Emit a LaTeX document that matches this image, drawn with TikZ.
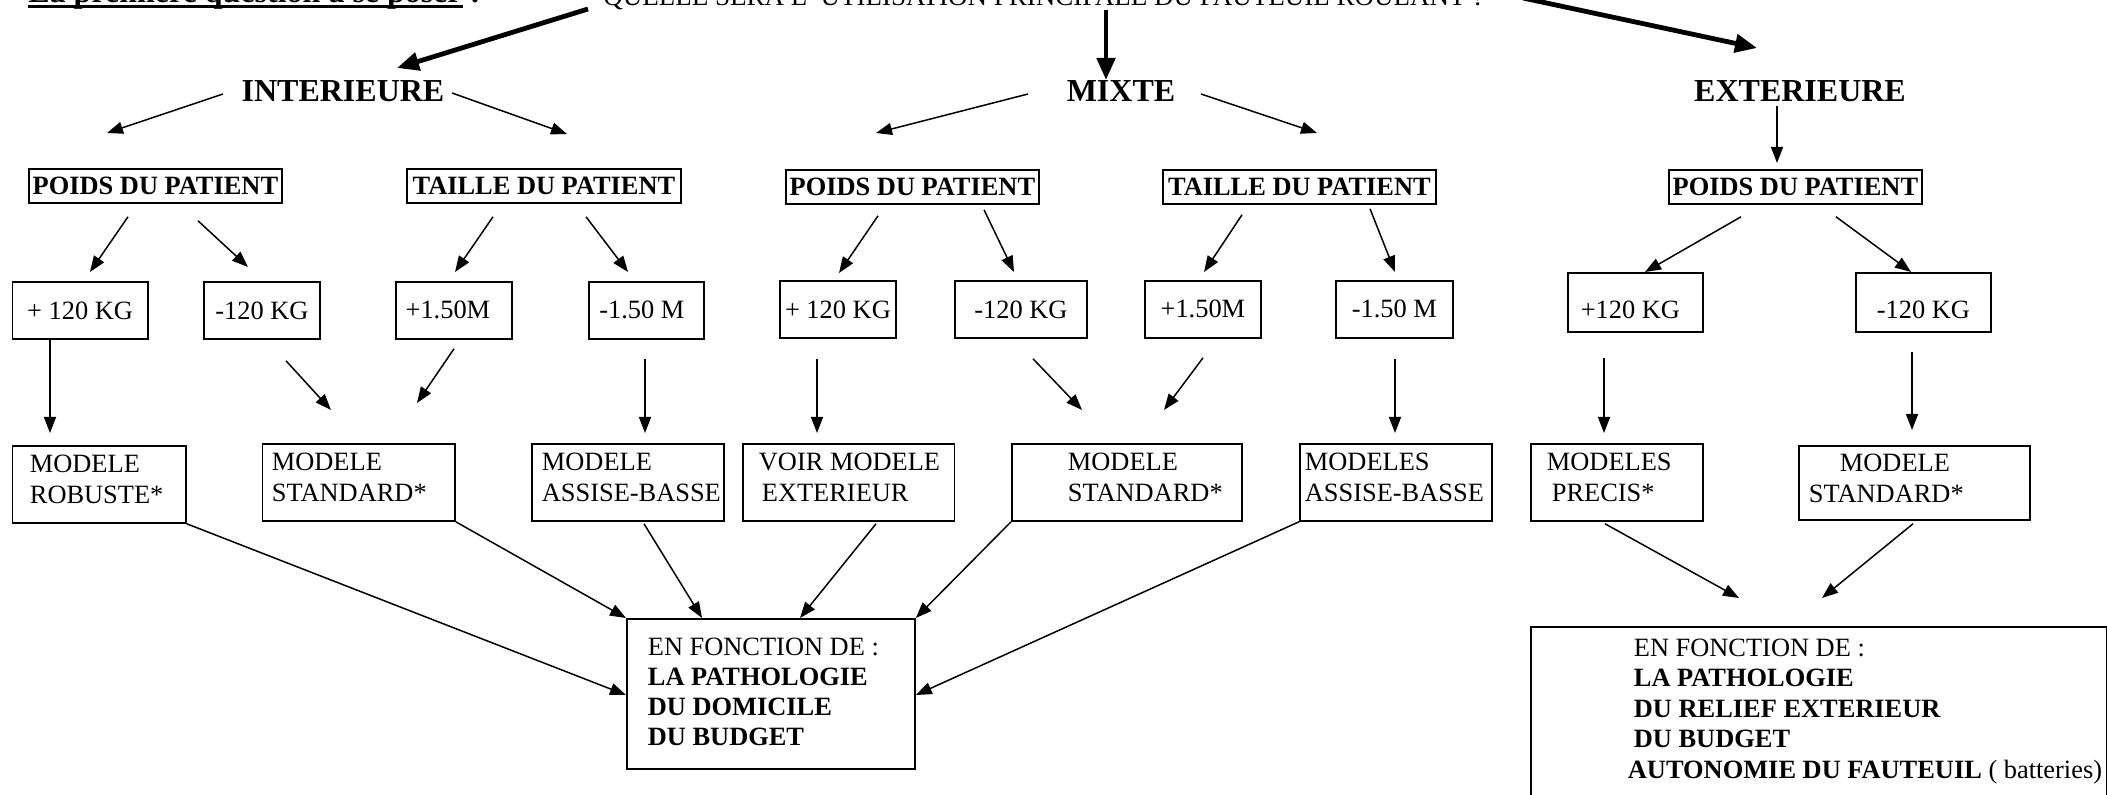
\documentclass[tikz,border=0pt]{standalone}
\usepackage{fontspec}
\setmainfont{Liberation Serif}
\usetikzlibrary{arrows.meta,calc}
\newcommand\ntxt{\fontsize{13.2}{15.5}\selectfont}
\newcommand\btxt{\bfseries\fontsize{13.2}{15.5}\selectfont}
\newcommand\htxt{\bfseries\fontsize{16}{19}\selectfont}
\newcommand\boxline[3]{\makebox[#1][l]{\hspace*{#2}#3}}
\newcommand\lowstrut[1]{\rule[-#1]{0pt}{#1}}
\begin{document}
\begin{tikzpicture}[x=0.5pt,y=-0.5pt,
  mybox/.style={draw, line width=0.9pt, inner sep=0pt},
  lvltwo/.style={mybox, font=\btxt, minimum height=17pt, anchor=north west},
  lvlthree/.style={mybox, font=\ntxt, minimum height=28.5pt, anchor=north west},
  lvlfour/.style={mybox, font=\ntxt, align=left, minimum height=38.5pt, anchor=north west},
  lvlfive/.style={mybox, font=\ntxt, align=left, anchor=north west},
  head/.style={font=\htxt, inner sep=0pt},
  arr/.style={-{Triangle[length=8pt,width=6pt]}, line width=0.75pt},
  bigarr/.style={-{Triangle[length=11pt,width=9pt]}, line width=2.4pt},
]
\useasboundingbox (0,0) rectangle (2107,795);
\clip (0,0) rectangle (2107,795);

% top texts
\node[anchor=base west, inner sep=0pt, font=\htxt] (title) at (28,3) {La première question à se poser :};
\draw[line width=1.25pt] ($(title.base west)+(0,3.5)$) -- ++(435,0);
\node[anchor=base west, inner sep=0pt, font=\fontsize{13.5}{16}\selectfont] (Q) at (603,6) {QUELLE SERA L' UTILISATION PRINCIPALE DU FAUTEUIL ROULANT ?};

% level 1
\node[head] (I) at (343,91) {INTERIEURE};
\node[head] (M) at (1121,91) {MIXTE};
\node[head] (E) at (1800,91) {EXTERIEURE};

% level 2
\node[lvltwo, minimum width=126.5pt] (IP) at (28,168) {POIDS DU PATIENT};
\node[lvltwo, minimum width=137pt] (IT) at (406,168) {TAILLE DU PATIENT};
\node[lvltwo, minimum width=126.5pt] (MP) at (785,169) {POIDS DU PATIENT};
\node[lvltwo, minimum width=136.5pt] (MT) at (1162,169) {TAILLE DU PATIENT};
\node[lvltwo, minimum width=126.5pt] (EP) at (1668,169) {POIDS DU PATIENT};

% level 3
\node[lvlthree, minimum width=67.75pt] (a1) at (11.5,281) {+ 120 KG};
\node[lvlthree, minimum width=58pt] (a2) at (203,281) {-120 KG};
\node[lvlthree, minimum width=58pt] (a3) at (395,281) {+1.50M\hspace*{6pt}};
\node[lvlthree, minimum width=57.5pt] (a4) at (588,281) {-1.50 M\hspace*{4.5pt}};
\node[lvlthree, minimum width=58pt] (b1) at (779,280) {+ 120 KG};
\node[lvlthree, minimum width=66pt] (b2) at (954,280) {-120 KG};
\node[lvlthree, minimum width=58pt] (b3) at (1144,280) {+1.50M};
\node[lvlthree, minimum width=58.5pt] (b4) at (1335,280) {-1.50 M};
\node[lvlthree, minimum width=67.5pt, minimum height=29.5pt] (c1) at (1567,272) {\rule{0pt}{16.7pt}+120 KG\hspace*{5pt}};
\node[lvlthree, minimum width=67.5pt, minimum height=29.5pt] (c2) at (1855,272) {\rule{0pt}{16.7pt}-120 KG};

% level 4
\node[lvlfour] (d1) at (11.5,445) {\boxline{86.75pt}{8.75pt}{MODELE}\\\boxline{86.75pt}{8.75pt}{ROBUSTE*}\lowstrut{5pt}};
\node[lvlfour] (d2) at (261.5,443) {\boxline{96.25pt}{4.75pt}{MODELE}\\\boxline{96.25pt}{4.75pt}{STANDARD*}\lowstrut{5pt}};
\node[lvlfour] (d3) at (531,443) {\boxline{96pt}{5pt}{MODELE}\\\boxline{96pt}{5pt}{ASSISE-BASSE}\lowstrut{5pt}};
\node[lvlfour] (d4) at (742,443) {\boxline{105.75pt}{8pt}{VOIR MODELE}\\\boxline{105.75pt}{9.5pt}{EXTERIEUR}\lowstrut{5pt}};
\node[lvlfour] (d5) at (1011,443) {\boxline{115pt}{28pt}{MODELE}\\\boxline{115pt}{28pt}{STANDARD*}\lowstrut{5pt}};
\node[lvlfour] (d6) at (1299,443) {\boxline{96pt}{2.5pt}{MODELES}\\\boxline{96pt}{2.5pt}{ASSISE-BASSE}\lowstrut{5pt}};
\node[lvlfour] (d7) at (1530,443) {\boxline{86pt}{8pt}{MODELES}\\\boxline{86pt}{10.5pt}{PRECIS*}\lowstrut{5pt}};
\node[lvlfour, minimum height=37pt] (d8) at (1798,445) {\boxline{115.5pt}{20.5pt}{MODELE}\\\boxline{115.5pt}{5pt}{STANDARD*}\lowstrut{5pt}};

% level 5
\node[lvlfive, font=\fontsize{13.2}{15}\selectfont, minimum height=75pt] (F1) at (626,618)
  {\boxline{144pt}{10.5pt}{EN FONCTION DE :}\\
   \boxline{144pt}{10.5pt}{\textbf{LA PATHOLOGIE}}\\
   \boxline{144pt}{10.5pt}{\textbf{DU DOMICILE}}\\
   \boxline{144pt}{10.5pt}{\textbf{DU BUDGET}}\lowstrut{2.5pt}};
\node[lvlfive, font=\fontsize{13.2}{15.25}\selectfont, minimum height=112.25pt] (F2) at (1530,626)
  {\boxline{288pt}{51.5pt}{EN FONCTION DE :}\\
   \boxline{288pt}{51.5pt}{\textbf{LA PATHOLOGIE}}\\
   \boxline{288pt}{51.5pt}{\textbf{DU RELIEF EXTERIEUR}}\\
   \boxline{288pt}{51.5pt}{\textbf{DU BUDGET}}\\
   \boxline{288pt}{48.5pt}{\textbf{AUTONOMIE DU FAUTEUIL} ( batteries)}\\
   \mbox{}\\
   \mbox{}};

% thick arrows from the question
\draw[bigarr] ($(Q.base west)+(-15,3)$) -- ($(I.center)+(54,-23)$);
\draw[bigarr] ($(Q.base west)+(503,4)$) -- ($(M.center)+(-15,-11)$);
\draw[bigarr] ($(Q.base west)+(920,-8)$) -- ($(E.center)+(-43,-43)$);

% level 1 -> level 2
\draw[arr] ($(I.center)+(-120,3)$) -- ($(IP.north west)+(79,-35)$);
\draw[arr] ($(I.center)+(109,2)$) -- ($(IT.north west)+(161,-34)$);
\draw[arr] ($(M.center)+(-93,3)$) -- ($(MP.north west)+(91,-36)$);
\draw[arr] ($(M.center)+(80,3)$) -- ($(MT.north west)+(155,-36)$);
\draw[arr] ($(E.center)+(-23,15)$) -- ($(EP.north west)+(109,-6)$);

% level 2 -> level 3
\draw[arr] ($(IP.south west)+(100,13)$) -- ($(a1.north west)+(78.5,-9)$);
\draw[arr] ($(IP.south west)+(170,17)$) -- ($(a2.north west)+(45,-14)$);
\draw[arr] ($(IT.south west)+(87,13)$) -- ($(a3.north west)+(60,-9)$);
\draw[arr] ($(IT.south west)+(180,13)$) -- ($(a4.north west)+(40,-9)$);
\draw[arr] ($(MP.south west)+(93,11)$) -- ($(b1.north west)+(60,-7)$);
\draw[arr] ($(MP.south west)+(199,5)$) -- ($(b2.north west)+(60,-8)$);
\draw[arr] ($(MT.south west)+(80,10)$) -- ($(b3.north west)+(60,-8)$);
\draw[arr] ($(MT.south west)+(208,4)$) -- ($(b4.north west)+(60,-8)$);
\draw[arr] ($(EP.south west)+(73,12)$) -- ($(c1.north west)+(78,0)$);
\draw[arr] ($(EP.south west)+(168,12)$) -- ($(c2.north west)+(56,0)$);

% level 3 -> level 4
\draw[arr] ($(a1.south west)+(38.5,0)$) -- ($(d1.north west)+(38.5,-12)$);
\draw[arr] ($(a2.south west)+(83,21)$) -- ($(d2.north west)+(69.5,-33)$);
\draw[arr] ($(a3.south west)+(59,9)$) -- ($(d2.north west)+(155.5,-40)$);
\draw[arr] ($(a4.south west)+(57,19)$) -- ($(d3.north west)+(114,-10)$);
\draw[arr] ($(b1.south west)+(38,20)$) -- ($(d4.north west)+(75,-10)$);
\draw[arr] ($(b2.south west)+(79,20)$) -- ($(d5.north west)+(71,-33)$);
\draw[arr] ($(b3.south west)+(59,19)$) -- ($(d5.north west)+(153,-33)$);
\draw[arr] ($(b4.south west)+(60,20)$) -- ($(d6.north west)+(96,-10)$);
\draw[arr] ($(c1.south west)+(37,25)$) -- ($(d7.north west)+(74,-10)$);
\draw[arr] ($(c2.south west)+(57,19)$) -- ($(d8.north west)+(114,-15)$);

% level 4 -> level 5
\draw[arr] (d1.south east) -- ($(F1.north west)+(0,77)$);
\draw[arr] (d2.south east) -- (F1.north west);
\draw[arr] ($(d3.south west)+(113,2)$) -- ($(F1.north west)+(76,0)$);
\draw[arr] ($(d4.south west)+(134,2)$) -- ($(F1.north west)+(174,0)$);
\draw[arr] (d5.south west) -- (F1.north east);
\draw[arr] (d6.south west) -- ($(F1.north east)+(0,77)$);
\draw[arr] ($(d7.south west)+(75,2)$) -- ($(F2.north west)+(209,-28)$);
\draw[arr] ($(d8.south west)+(115,3)$) -- ($(F2.north west)+(292,-28)$);
\end{tikzpicture}
\end{document}
